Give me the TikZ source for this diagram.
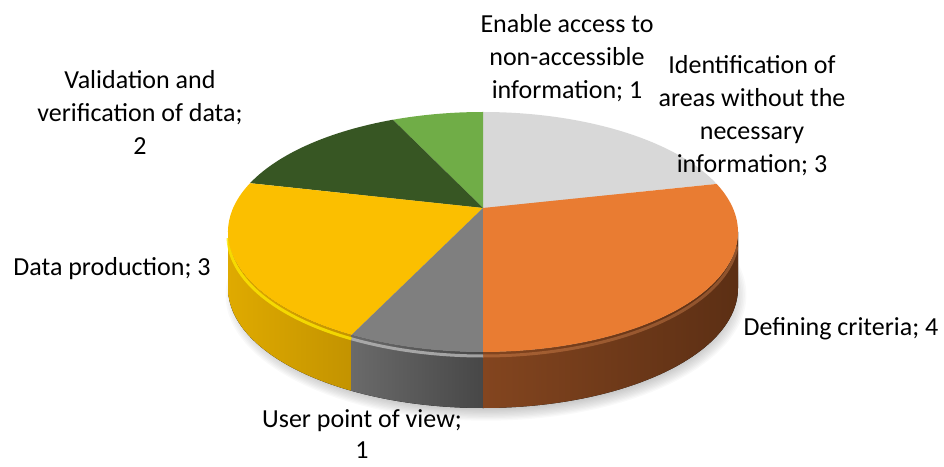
\documentclass[tikz,border=0pt]{standalone}
\usepackage{fontspec}
\setmainfont{Carlito}
\usetikzlibrary{calc}
\definecolor{lgray}{HTML}{D8D8D8}
\definecolor{lgreen}{HTML}{70AD47}
\definecolor{dgreen}{HTML}{375623}
\definecolor{yel}{HTML}{FBBF00}
\definecolor{gry}{HTML}{7F7F7F}
\definecolor{org}{HTML}{E97C32}
\definecolor{yelL}{HTML}{DFAA00}
\definecolor{yelR}{HTML}{C39300}
\definecolor{gryL}{HTML}{6A6A6A}
\definecolor{gryR}{HTML}{474747}
\definecolor{orgL}{HTML}{83451F}
\definecolor{orgR}{HTML}{5C2F14}
\begin{document}
\begin{tikzpicture}[x=1pt,y=1pt,
  lbl/.style={align=center,inner sep=0pt,font=\fontsize{26}{33}\selectfont},
  ell/.style={x radius=255,y radius=120}]
\useasboundingbox (0,0) rectangle (944,466);
\coordinate (C) at (483,234);
\coordinate (A) at (483,258);
% soft shadow
\foreach \i in {0,...,9}
  \fill[black,opacity=0.022] (486,171) ellipse[x radius=246+1.6*\i, y radius=114+1.3*\i];
% sides
\fill[left color=yelL,right color=yelR]
  ($(C)+(180:255 and 120)$) arc[start angle=180,end angle=239,ell]
  -- ++(0,-56) arc[start angle=239,end angle=180,ell] -- cycle;
\fill[left color=gryL,right color=gryR]
  ($(C)+(239:255 and 120)$) arc[start angle=239,end angle=270,ell]
  -- ++(0,-56) arc[start angle=270,end angle=239,ell] -- cycle;
\fill[left color=orgL,right color=orgR]
  ($(C)+(270:255 and 120)$) arc[start angle=270,end angle=360,ell]
  -- ++(0,-56) arc[start angle=360,end angle=270,ell] -- cycle;
% bevel highlights
\draw[yellow!80!yel,line width=3pt,opacity=0.8]
  ($(C)+(0,-4)+(181:255 and 120)$) arc[start angle=181,end angle=239,ell];
\draw[gray!55,line width=3pt,opacity=0.8]
  ($(C)+(0,-4)+(239:255 and 120)$) arc[start angle=239,end angle=270,ell];
\draw[org!80!white,line width=3pt,opacity=0.35]
  ($(C)+(0,-4)+(270:255 and 120)$) arc[start angle=270,end angle=355,ell];
% top slices
\fill[lgray] (A) -- ($(C)+(23.6:255 and 120)$) arc[start angle=23.6,end angle=90,ell] -- cycle;
\fill[lgreen] (A) -- ($(C)+(90:255 and 120)$) arc[start angle=90,end angle=110.7,ell] -- cycle;
\fill[dgreen] (A) -- ($(C)+(110.7:255 and 120)$) arc[start angle=110.7,end angle=156,ell] -- cycle;
\fill[yel] (A) -- ($(C)+(156:255 and 120)$) arc[start angle=156,end angle=239,ell] -- cycle;
\fill[gry] (A) -- ($(C)+(239:255 and 120)$) arc[start angle=239,end angle=270,ell] -- cycle;
\fill[org] (A) -- ($(C)+(270:255 and 120)$) arc[start angle=270,end angle=383.6,ell] -- cycle;
% labels
\node[lbl] (enable) at (567,408) {Enable access to\\non-accessible\\information; 1};
\node[lbl] (ident) at (752,350) {Identification of\\areas without the\\necessary\\information; 3};
\node[lbl] (valid) at (140,354) {Validation and\\verification of data;\\2};
\node[lbl] (prod) at (112,197) {Data production; 3};
\node[lbl] (crit) at (841,137) {Defining criteria; 4};
\node[lbl,font=\fontsize{26}{31}\selectfont] (user) at (362,32) {User point of view;\\1};
\end{tikzpicture}
\end{document}
